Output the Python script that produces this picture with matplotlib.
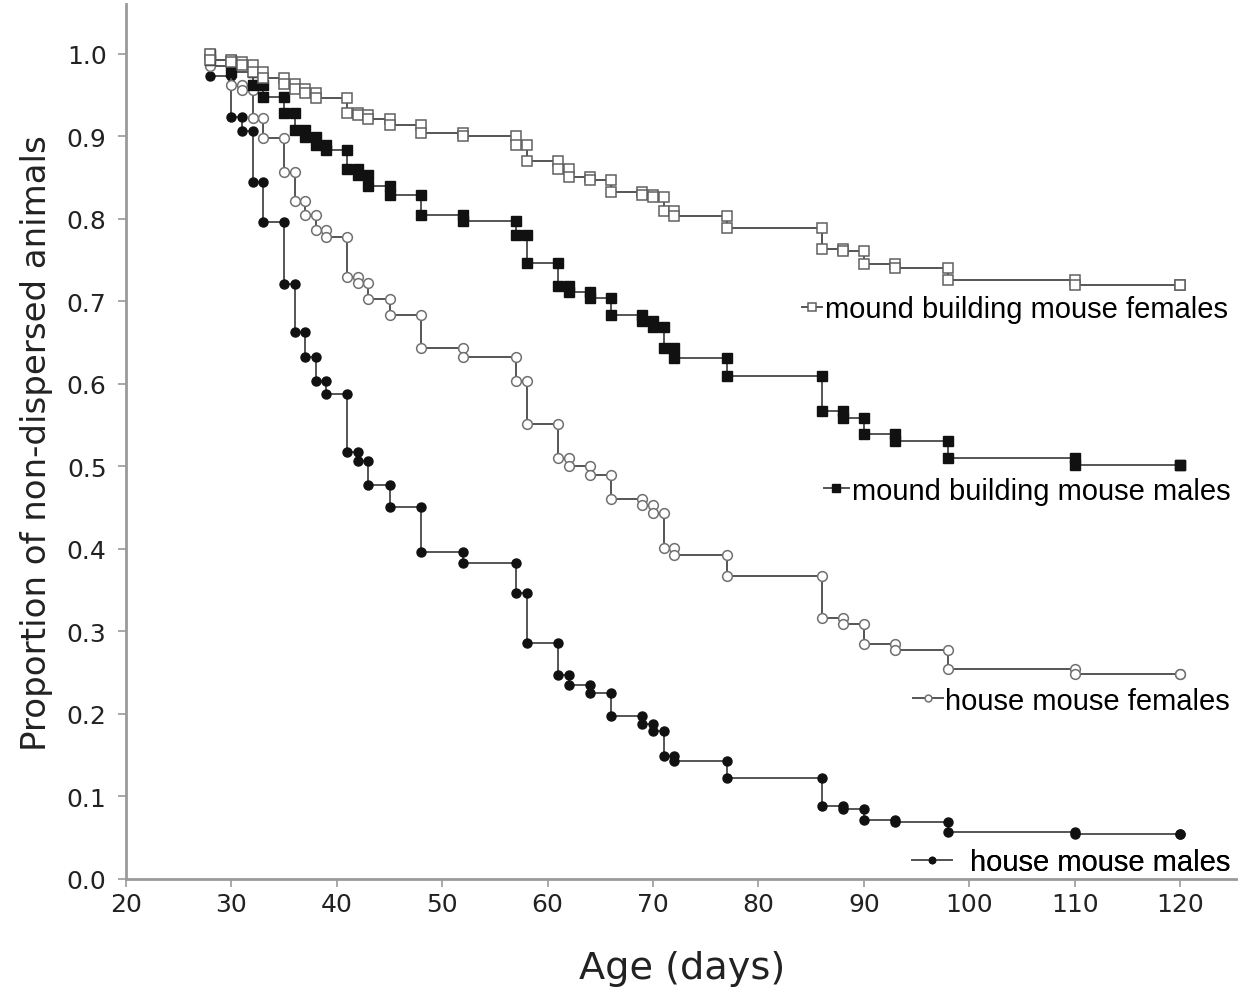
import matplotlib
matplotlib.use("Agg")
import matplotlib.pyplot as plt
import numpy as np

# Kaplan-Meier style curves: day of each step and proportion left after it
hmm_days = [28, 30, 31, 32, 33, 35, 36, 37, 38, 39, 41, 42, 43, 45, 48, 52, 57, 58, 61, 62,
            64, 66, 69, 70, 71, 72, 77, 86, 88, 90, 93, 98, 110, 120]
hmm_surv = [0.973, 0.924, 0.906, 0.845, 0.796, 0.721, 0.663, 0.633, 0.603, 0.588, 0.518, 0.506,
            0.477, 0.451, 0.396, 0.383, 0.346, 0.286, 0.247, 0.235, 0.225, 0.197, 0.188, 0.179,
            0.149, 0.143, 0.122, 0.089, 0.085, 0.072, 0.069, 0.057, 0.055, 0.055]

hmf_days = [28, 30, 31, 32, 33, 35, 36, 37, 38, 39, 41, 42, 43, 45, 48, 52, 57, 58, 61, 62,
            64, 66, 69, 70, 71, 72, 77, 86, 88, 90, 93, 98, 110, 120]
hmf_surv = [0.985, 0.962, 0.956, 0.922, 0.898, 0.857, 0.822, 0.805, 0.786, 0.778, 0.730, 0.722,
            0.703, 0.683, 0.643, 0.633, 0.603, 0.551, 0.510, 0.501, 0.490, 0.461, 0.453, 0.444,
            0.401, 0.393, 0.367, 0.316, 0.309, 0.285, 0.278, 0.255, 0.248, 0.248]

mbm_days = [28, 30, 32, 33, 35, 36, 37, 38, 39, 41, 42, 43, 45, 48, 52, 57, 58, 61, 62, 64,
            66, 69, 70, 71, 72, 77, 86, 88, 90, 93, 98, 110, 120]
mbm_surv = [0.993, 0.978, 0.962, 0.948, 0.928, 0.908, 0.899, 0.890, 0.884, 0.860, 0.853, 0.840,
            0.829, 0.805, 0.798, 0.780, 0.746, 0.719, 0.711, 0.704, 0.684, 0.676, 0.669, 0.644,
            0.632, 0.609, 0.567, 0.559, 0.539, 0.531, 0.510, 0.502, 0.502]

mbf_days = [28, 30, 31, 32, 33, 35, 36, 37, 38, 41, 42, 43, 45, 48, 52, 57, 58, 61, 62, 64,
            66, 69, 70, 71, 72, 77, 86, 88, 90, 93, 98, 110, 120]
mbf_surv = [0.993, 0.990, 0.987, 0.978, 0.971, 0.963, 0.958, 0.952, 0.946, 0.928, 0.926, 0.921,
            0.914, 0.904, 0.900, 0.890, 0.870, 0.860, 0.851, 0.847, 0.833, 0.829, 0.827, 0.809,
            0.804, 0.789, 0.763, 0.761, 0.745, 0.741, 0.726, 0.720, 0.720]

labels = ["mound building mouse females", "mound building mouse males",
          "house mouse females", "house mouse males"]
x_ticks = [20, 30, 40, 50, 60, 70, 80, 90, 100, 110, 120]
y_ticks = [0.0, 0.1, 0.2, 0.3, 0.4, 0.5, 0.6, 0.7, 0.8, 0.9, 1.0]


def step_points(days, surv):
    # every step gets a marker at its top and at its bottom
    x = np.repeat(days, 2)
    y = np.concatenate([[1.0], np.repeat(surv, 2)[:-1]])
    return x, y


plt.rcParams['font.family'] = ['Liberation Sans', 'DejaVu Sans']

fig = plt.figure(figsize=(12.38, 9.95), dpi=100)
ax = fig.add_axes([0.1018, 0.1156, 0.8982, 0.879])

line_col = '#555555'
styles = [
    dict(marker='s', mfc='white', mec='#606060', ms=7.5, mew=1.1),   # mound building females
    dict(marker='s', mfc='#111111', mec='#111111', ms=7.5, mew=1.0),  # mound building males
    dict(marker='o', mfc='white', mec='#707070', ms=7, mew=1.1),     # house mouse females
    dict(marker='o', mfc='#111111', mec='#111111', ms=6.5, mew=1.0),  # house mouse males
]
series = [(mbf_days, mbf_surv), (mbm_days, mbm_surv), (hmf_days, hmf_surv), (hmm_days, hmm_surv)]

handles = []
for (days, surv), st, z in zip(series, styles, [5, 4, 3, 2]):
    x, y = step_points(days, surv)
    h, = ax.plot(x, y, color=line_col, lw=1.4, zorder=z, **st)
    handles.append(h)

# the four labels sit next to the curve ends
anchors = [(0.991, 0.652), (0.993, 0.444), (0.993, 0.204), (0.993, 0.019)]
hlens = [0.7, 0.85, 1.0, 1.4]
pads = [0.1, 0.1, 0.1, 0.6]
for h, lab, anc, hl, pd in zip(handles, labels, anchors, hlens, pads):
    leg = ax.legend([h], [lab], loc='center right', bbox_to_anchor=anc, frameon=False,
                    fontsize=21, handlelength=hl, handletextpad=pd, borderpad=0,
                    borderaxespad=0, markerscale=0.7)
    ax.add_artist(leg)

ax.set_xlim(20, 125.5)
ax.set_ylim(0, 1.06)
ax.set_xticks(x_ticks)
ax.set_yticks(y_ticks)
ax.set_yticklabels([f"{v:.1f}" for v in y_ticks])
ax.tick_params(axis='y', pad=8)
ax.tick_params(labelsize=18, color='#999999', labelcolor='#222222', length=6, width=1.2)
for lab in ax.get_xticklabels() + ax.get_yticklabels():
    lab.set_family('DejaVu Sans')
for side in ['top', 'right']:
    ax.spines[side].set_visible(False)
for side in ['left', 'bottom']:
    ax.spines[side].set_color('#9a9a9a')
    ax.spines[side].set_linewidth(2)

ax.set_xlabel("Age (days)", fontsize=27.5, family='DejaVu Sans', color='#222222', labelpad=24)
ax.set_ylabel("Proportion of non-dispersed animals", fontsize=24.5, family='DejaVu Sans',
              color='#222222', labelpad=10)

fig.savefig("out.png", dpi=100)
